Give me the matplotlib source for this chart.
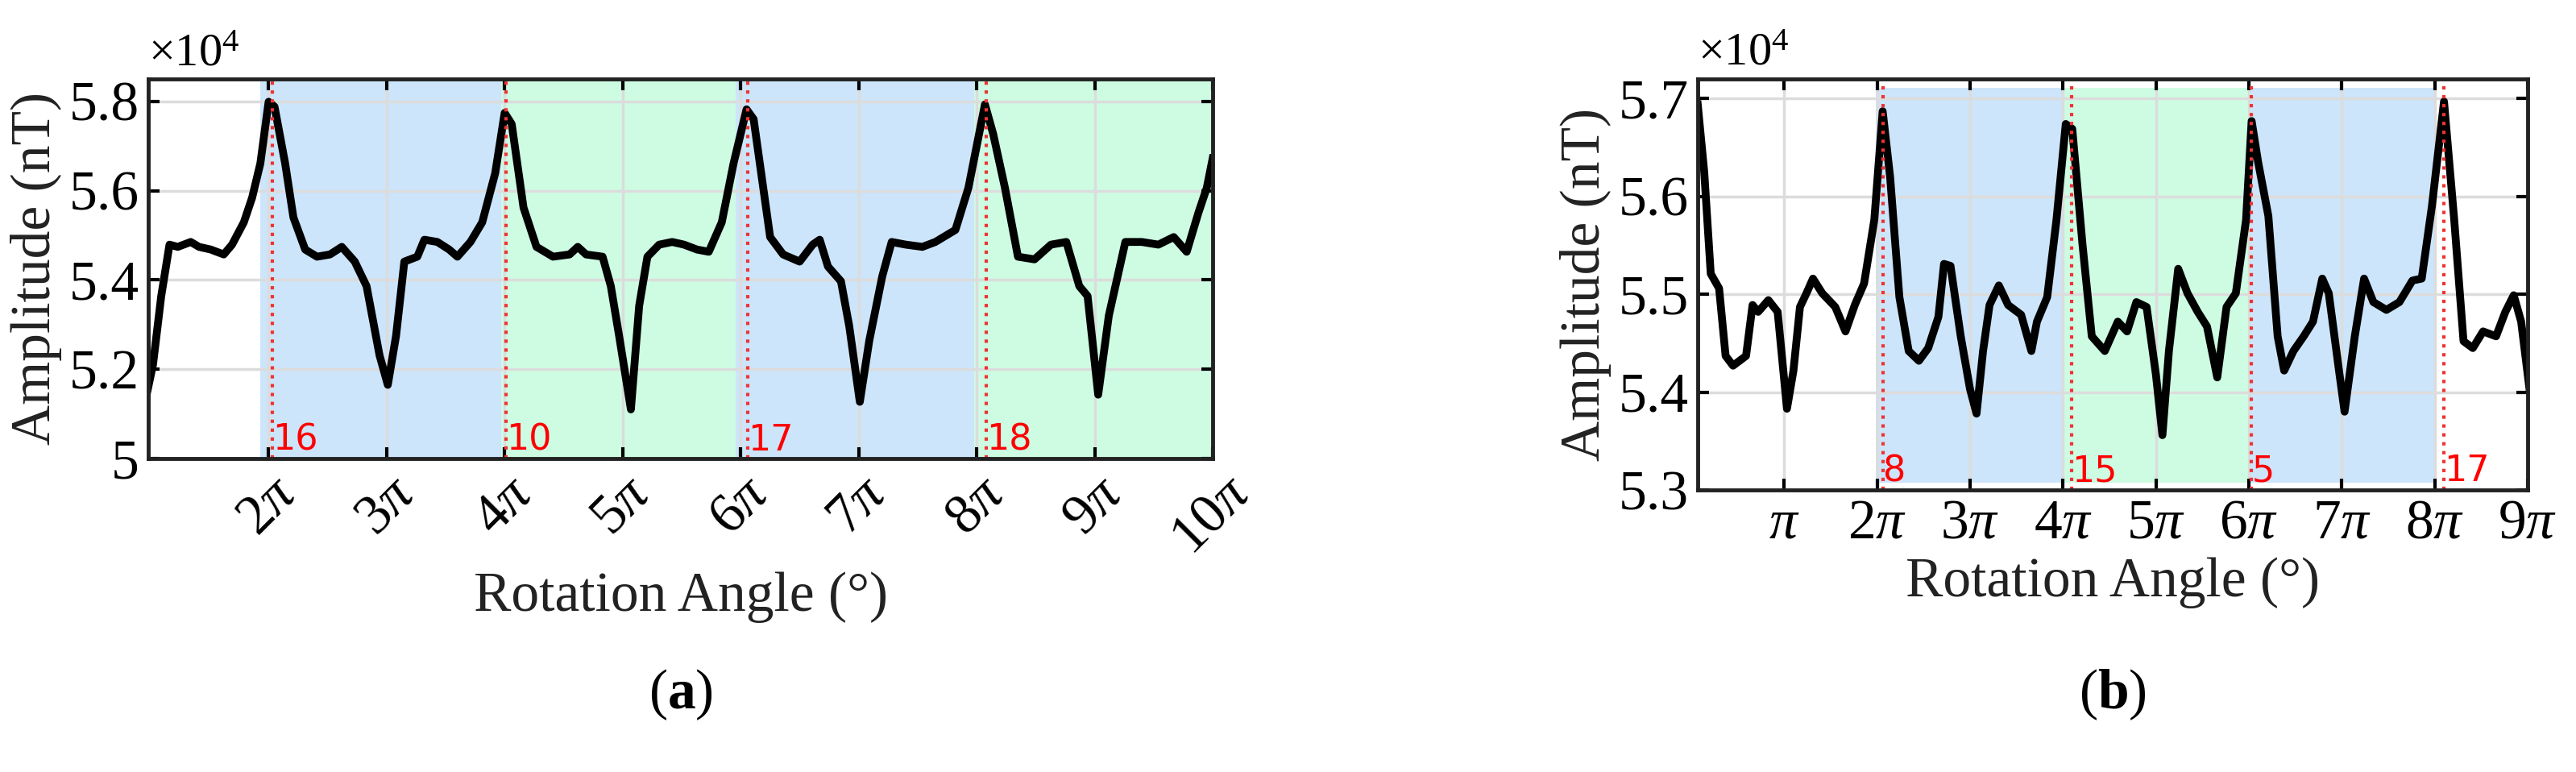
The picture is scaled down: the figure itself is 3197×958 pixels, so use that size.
import numpy as np
import matplotlib.pyplot as plt
from matplotlib.ticker import FuncFormatter

plt.rcParams['font.family'] = ['Liberation Serif', 'DejaVu Serif']
plt.rcParams['mathtext.fontset'] = 'custom'
plt.rcParams['mathtext.rm'] = 'Liberation Serif'
plt.rcParams['mathtext.it'] = 'Liberation Serif:italic'
plt.rcParams['mathtext.bf'] = 'Liberation Serif:bold'

# ---- data (x in multiples of pi, y in 1e4 nT) ----
a_x = [0.975, 1.02, 1.09, 1.16, 1.23, 1.34, 1.41, 1.51, 1.62, 1.69, 1.79, 1.86, 1.93, 2.0, 2.05, 2.14,
       2.21, 2.31, 2.41, 2.52, 2.62, 2.73, 2.83, 2.94, 3.01, 3.08, 3.15, 3.26, 3.32, 3.43, 3.53, 3.60,
       3.71, 3.81, 3.92, 4.00, 4.06, 4.16, 4.27, 4.41, 4.55, 4.62, 4.69, 4.83, 4.90, 4.97, 5.03, 5.07,
       5.14, 5.21, 5.31, 5.42, 5.52, 5.63, 5.73, 5.84, 5.94, 6.05, 6.11, 6.25, 6.36, 6.50, 6.61, 6.67,
       6.74, 6.85, 6.92, 7.01, 7.09, 7.20, 7.28, 7.40, 7.54, 7.65, 7.82, 7.93, 8.07, 8.14, 8.24, 8.35,
       8.49, 8.63, 8.76, 8.87, 8.94, 9.03, 9.12, 9.26, 9.40, 9.54, 9.67, 9.78, 9.88, 9.95, 10.0]
a_y = [5.154, 5.21, 5.364, 5.479, 5.474, 5.485, 5.474, 5.468, 5.457, 5.479, 5.529, 5.584, 5.661, 5.799,
       5.788, 5.661, 5.540, 5.468, 5.452, 5.457, 5.474, 5.441, 5.386, 5.231, 5.165, 5.275, 5.441, 5.452,
       5.490, 5.485, 5.468, 5.452, 5.485, 5.529, 5.639, 5.774, 5.749, 5.562, 5.474, 5.452, 5.457, 5.474,
       5.457, 5.452, 5.386, 5.275, 5.176, 5.110, 5.342, 5.452, 5.479, 5.485, 5.479, 5.468, 5.463, 5.529,
       5.661, 5.782, 5.760, 5.496, 5.457, 5.441, 5.479, 5.490, 5.430, 5.397, 5.297, 5.127, 5.264, 5.408,
       5.485, 5.479, 5.474, 5.485, 5.512, 5.606, 5.793, 5.727, 5.606, 5.452, 5.446, 5.479, 5.485, 5.386,
       5.364, 5.143, 5.320, 5.485, 5.485, 5.479, 5.496, 5.463, 5.551, 5.606, 5.672]
b_x = [0.07, 0.14, 0.21, 0.30, 0.37, 0.45, 0.59, 0.66, 0.72, 0.83, 0.93, 1.03, 1.10, 1.17, 1.24, 1.31,
       1.41, 1.55, 1.66, 1.76, 1.86, 1.97, 2.06, 2.14, 2.24, 2.34, 2.45, 2.55, 2.66, 2.72, 2.79, 2.90,
       3.00, 3.07, 3.14, 3.21, 3.31, 3.41, 3.55, 3.66, 3.72, 3.83, 3.93, 4.03, 4.10, 4.21, 4.31, 4.45,
       4.59, 4.69, 4.79, 4.90, 5.00, 5.07, 5.14, 5.24, 5.34, 5.45, 5.55, 5.66, 5.76, 5.86, 5.97, 6.03,
       6.10, 6.21, 6.31, 6.38, 6.48, 6.59, 6.69, 6.79, 6.86, 6.97, 7.03, 7.14, 7.24, 7.34, 7.48, 7.62,
       7.76, 7.86, 7.97, 8.10, 8.21, 8.31, 8.41, 8.52, 8.66, 8.76, 8.85, 8.93, 9.02]
b_y = [5.694, 5.625, 5.521, 5.506, 5.437, 5.427, 5.437, 5.489, 5.482, 5.494, 5.482, 5.383, 5.422, 5.487,
       5.501, 5.516, 5.501, 5.487, 5.462, 5.489, 5.511, 5.576, 5.687, 5.620, 5.497, 5.442, 5.432, 5.445,
       5.477, 5.531, 5.529, 5.457, 5.403, 5.378, 5.442, 5.489, 5.509, 5.489, 5.479, 5.442, 5.472, 5.497,
       5.576, 5.674, 5.669, 5.551, 5.457, 5.442, 5.472, 5.462, 5.492, 5.487, 5.418, 5.356, 5.442, 5.526,
       5.501, 5.482, 5.467, 5.415, 5.487, 5.501, 5.576, 5.677, 5.635, 5.580, 5.457, 5.422, 5.442, 5.457,
       5.472, 5.516, 5.501, 5.422, 5.380, 5.457, 5.516, 5.492, 5.484, 5.492, 5.514, 5.516, 5.590, 5.697,
       5.576, 5.452, 5.445, 5.462, 5.457, 5.482, 5.499, 5.472, 5.403]

a_bands = [(1.93, 3.97, 'blue'), (3.97, 5.96, 'green'), (5.96, 7.98, 'blue'), (7.98, 10.0, 'green')]
a_marks = [2.03, 4.01, 6.06, 8.08]
a_labels = ['16', '10', '17', '18']
b_bands = [(1.99, 4.0, 'blue'), (4.0, 6.0, 'green'), (6.0, 8.02, 'blue')]
b_marks = [2.06, 4.09, 6.03, 8.10]
b_labels = ['8', '15', '5', '17']

colors = {'blue': '#cce5fb', 'green': '#cdfce3'}
FS = 50


def pi_fmt(v, pos):
    n = int(round(v))
    return r'$\pi$' if n == 1 else r'%d$\pi$' % n


def panel(ax, x, y, bands, marks, labels, xlim, ylim, band_y, xticks, yticks, rot):
    ax.grid(True, color='#dcdcdc', linewidth=2.5, zorder=0)
    for x0, x1, c in bands:
        ax.fill_between([x0, x1], band_y[0], band_y[1], color=colors[c], linewidth=0, zorder=1)
    ax.plot(x, y, color='black', linewidth=7, zorder=3, solid_joinstyle='round')
    for m, lab in zip(marks, labels):
        ax.axvline(m, color='#ee3333', linestyle=':', linewidth=3, zorder=4)
        ax.text(m, ylim[0] + 0.003 * (ylim[1] - ylim[0]), lab, color='red', fontsize=32,
                family='DejaVu Sans', ha='left', va='bottom', zorder=5)
    ax.set_xlim(*xlim)
    ax.set_ylim(*ylim)
    ax.set_xticks(xticks)
    ax.set_yticks(yticks)
    ax.xaxis.set_major_formatter(FuncFormatter(pi_fmt))
    ax.yaxis.set_major_formatter(FuncFormatter(lambda v, p: ('%.1f' % v).rstrip('0').rstrip('.')))
    ax.tick_params(direction='in', length=10, width=3, labelsize=FS, top=True, right=True, pad=8)
    for lab in ax.get_xticklabels():
        lab.set_rotation(rot)
    for s in ax.spines.values():
        s.set_linewidth(3.5)
        s.set_color('#222222')
        s.set_zorder(6)
    ax.set_xlabel('Rotation Angle (°)', fontsize=FS, color='#222222', labelpad=6)
    ax.set_ylabel('Amplitude (nT)', fontsize=FS, color='#222222', labelpad=6)
    ax.text(0.0, 1.01, r'$\times10^4$', transform=ax.transAxes, fontsize=42, ha='left', va='bottom')


fig = plt.figure(figsize=(31.97, 9.58), dpi=100)
ax1 = fig.add_axes([184 / 3197, 1 - 569 / 958, (1505 - 184) / 3197, (569 - 98) / 958])
ax2 = fig.add_axes([2107 / 3197, 1 - 608 / 958, (3137 - 2107) / 3197, (608 - 98) / 958])

panel(ax1, a_x, a_y, a_bands, a_marks, a_labels, (0.98, 10.0), (5.0, 5.85), (5.0, 5.85),
      range(2, 11), [5.0, 5.2, 5.4, 5.6, 5.8], 45)
panel(ax2, b_x, b_y, b_bands, b_marks, b_labels, (0.07, 9.0), (5.3, 5.72), (5.307, 5.711),
      range(1, 10), [5.3, 5.4, 5.5, 5.6, 5.7], 0)

fig.text(ax1.get_position().x0 + ax1.get_position().width / 2, 0.1, r'($\mathbf{a}$)', fontsize=FS,
         ha='center', va='center')
fig.text(ax2.get_position().x0 + ax2.get_position().width / 2, 0.1, r'($\mathbf{b}$)', fontsize=FS,
         ha='center', va='center')

fig.savefig('out.png', dpi=100)
